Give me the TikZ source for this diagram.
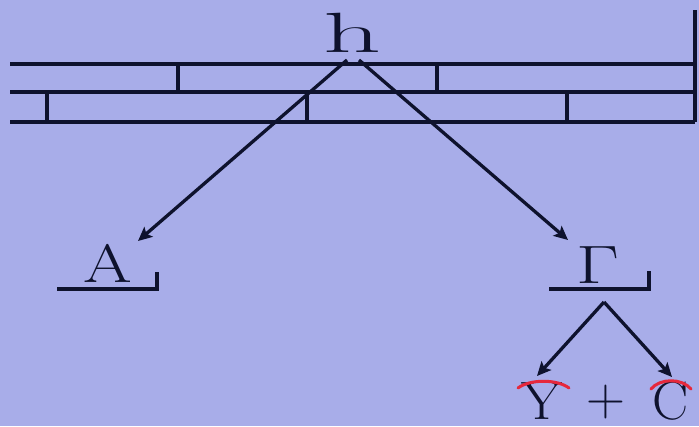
\RequirePackage{fix-cm}
\documentclass[tikz,border=0pt]{standalone}
\usetikzlibrary{arrows.meta}
\definecolor{bg}{RGB}{168,173,233}
\definecolor{ink}{RGB}{14,18,45}
\definecolor{arcred}{RGB}{230,40,60}
\tikzset{
  rule/.style={draw=ink,line width=3.2pt},
  conn/.style={draw=ink,line width=3.3pt,-{Stealth[length=14pt,width=13pt,inset=3pt]}},
  lbl/.style={inner sep=0pt,anchor=base,text=ink,font=\fontsize{54}{60}\selectfont},
  redarc/.style={draw=arcred,line width=3pt,line cap=round}
}
\begin{document}
\begin{tikzpicture}[x=1pt,y=-1pt]
\fill[bg] (0,0) rectangle (699,426);
\useasboundingbox (0,0) rectangle (699,426);
% wall lines
\coordinate (l1a) at (10,64); \coordinate (l1b) at (695,64);
\coordinate (l2a) at (10,92); \coordinate (l2b) at (695,92);
\coordinate (l3a) at (10,122); \coordinate (l3b) at (695,122);
\coordinate (rt) at (695,10);
\draw[rule] (l1a) -- (l1b);
\draw[rule] (l2a) -- (l2b);
\draw[rule] (l3a) -- (l3b);
\draw[rule] (rt) -- (l3b);
\foreach \x in {178,437} \draw[rule] (\x,64) -- (\x,92);
\foreach \x in {47,307,567} \draw[rule] (\x,92) -- (\x,122);
% labels
\node[lbl] (h) at (352,52) {\scalebox{2.1}[1.05]{h}};
\node[lbl] (A) at (108,282) {\scalebox{1.3}[1]{A}};
\node[lbl] (G) at (598,283) {\scalebox{1.38}[1]{$\Gamma$}};
\node[lbl] (Y) at (542,419) {\scalebox{1.1}[1]{Y}};
\node[lbl] (plus) at (606,415) {+};
\node[lbl] (C) at (671,419) {C};
% underline corners
\coordinate (Au1) at (57,289); \coordinate (Au2) at (157,289); \coordinate (Au3) at (157,272);
\draw[rule] (Au1) -- (Au2) -- (Au3);
\coordinate (Gu1) at (549,289); \coordinate (Gu2) at (649,289); \coordinate (Gu3) at (649,271);
\draw[rule] (Gu1) -- (Gu2) -- (Gu3);
% arrows
\coordinate (hl) at (347,60); \coordinate (hr) at (359,60);
\coordinate (Atip) at (138,241); \coordinate (Gtip) at (568,240);
\draw[conn] (hl) -- (Atip);
\draw[conn] (hr) -- (Gtip);
\coordinate (Gap) at (604,302);
\coordinate (Ytip) at (537,376); \coordinate (Ctip) at (672,377);
\draw[conn] (Gap) -- (Ytip);
\draw[conn] (Gap) -- (Ctip);
% red arcs
\draw[redarc] (518,388) .. controls (530,379) and (557,379) .. (569,388);
\draw[redarc] (651,389) .. controls (660,378) and (682,378) .. (691,389);
\end{tikzpicture}
\end{document}
